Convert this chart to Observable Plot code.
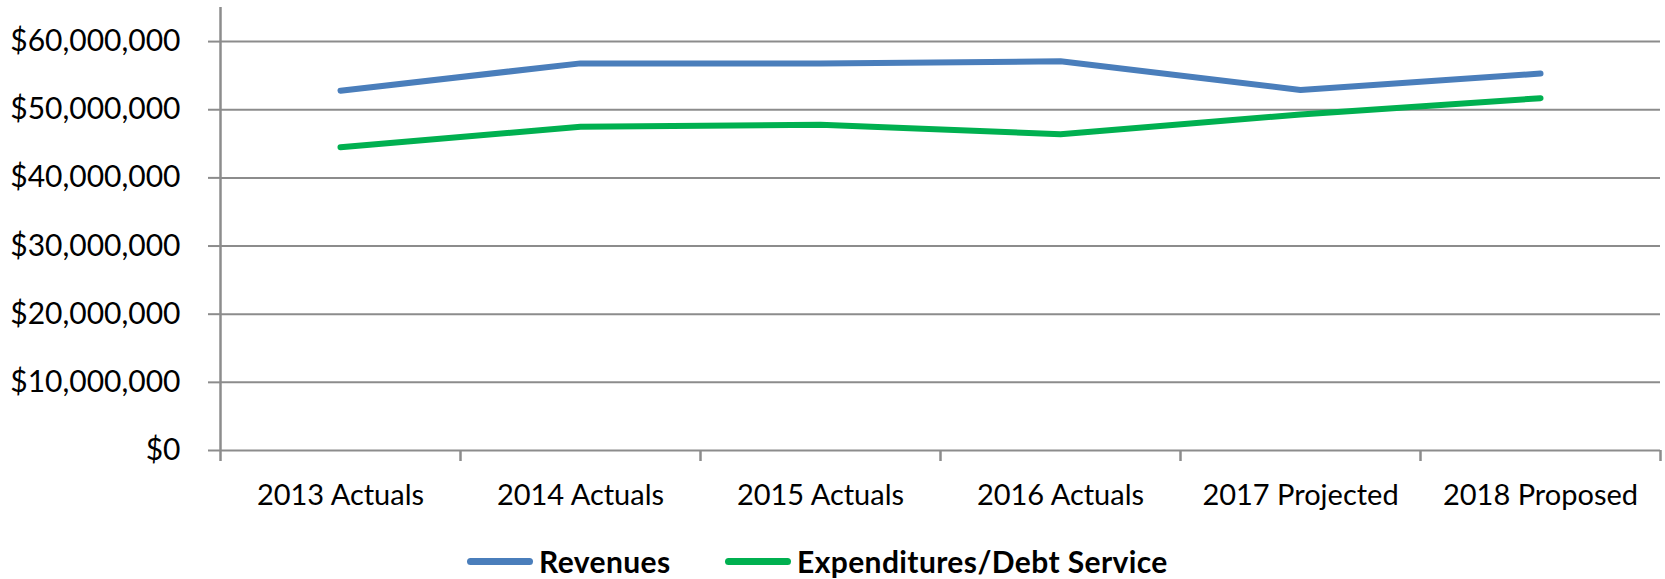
<!DOCTYPE html>
<html>
<head>
<meta charset="utf-8">
<script src="https://cdn.jsdelivr.net/npm/d3@7"></script>
<script src="https://cdn.jsdelivr.net/npm/@observablehq/plot@0.6"></script>
<style>
  html, body { margin: 0; padding: 0; background: #fff; }
  body { width: 1665px; height: 579px; position: relative; overflow: hidden; font-family: Lato, "Open Sans", sans-serif; }
  #legend { position: absolute; left: 0; top: 0; width: 1665px; height: 579px; pointer-events: none; }
  .item { position: absolute; top: 542px; height: 38px; display: flex; align-items: center; font-weight: bold; font-size: 30px; letter-spacing: 0.4px; color: #000; }
  .swatch { display: inline-block; width: 66px; height: 7px; border-radius: 4px; margin-right: 6px; }
</style>
</head>
<body>
<div id="chart"></div>
<div id="legend"></div>
<script>
const categories = ["2013 Actuals", "2014 Actuals", "2015 Actuals", "2016 Actuals", "2017 Projected", "2018 Proposed"];
const seriesNames = ["Revenues", "Expenditures/Debt Service"];
const revenues = [52800000, 56800000, 56800000, 57100000, 52900000, 55300000];
const expenditures = [44500000, 47500000, 47800000, 46400000, 49300000, 51700000];
const yTicks = [0, 10000000, 20000000, 30000000, 40000000, 50000000, 60000000];
const colors = ["#4A7EBB", "#00B050"];

const data = [];
categories.forEach((c, i) => {
  data.push({i, category: c, series: seriesNames[0], value: revenues[i]});
  data.push({i, category: c, series: seriesNames[1], value: expenditures[i]});
});
const boundaries = d3.range(categories.length + 1).map(k => k - 0.5);
const grid = "#8c8c8c";

const chart = Plot.plot({
  width: 1665,
  height: 520,
  marginLeft: 220,
  marginRight: 5,
  marginTop: 7,
  marginBottom: 70,
  style: {fontFamily: "Lato, 'Open Sans', sans-serif", fontSize: "28px", color: "#000", background: "#fff"},
  x: {type: "linear", domain: [-0.5, categories.length - 0.5], axis: null},
  y: {domain: [0, 65000000], axis: null},
  color: {domain: seriesNames, range: colors},
  marks: [
    Plot.ruleY(yTicks, {y: d => d, x1: -0.5, x2: categories.length - 0.5, stroke: grid, strokeWidth: 2}),
    Plot.ruleX([-0.5], {y1: 0, y2: 65000000, stroke: grid, strokeWidth: 2.5}),
    Plot.axisY({ticks: yTicks, label: null, tickSize: 12, tickPadding: 28, stroke: grid, strokeWidth: 2, fill: "#000", fontSize: 30,
      tickFormat: d => "$" + d3.format(",")(d)}),
    Plot.axisX({ticks: boundaries, label: null, tickSize: 11, tickFormat: () => "", stroke: grid, strokeWidth: 2.5}),
    Plot.axisX({ticks: d3.range(categories.length), label: null, tickSize: 0, tickPadding: 34, fill: "#000", fontSize: 29,
      tickFormat: k => categories[k]}),
    Plot.line(data, {x: "i", y: "value", z: "series", stroke: "series", strokeWidth: 6, strokeLinecap: "round", strokeLinejoin: "round"})
  ]
});
document.getElementById("chart").appendChild(chart);

const legend = document.getElementById("legend");
const lefts = [467, 725];
seriesNames.forEach((name, k) => {
  const item = document.createElement("div");
  item.className = "item";
  item.style.left = lefts[k] + "px";
  const sw = document.createElement("span");
  sw.className = "swatch";
  sw.style.background = colors[k];
  item.appendChild(sw);
  item.appendChild(document.createTextNode(name));
  legend.appendChild(item);
});
</script>
</body>
</html>
